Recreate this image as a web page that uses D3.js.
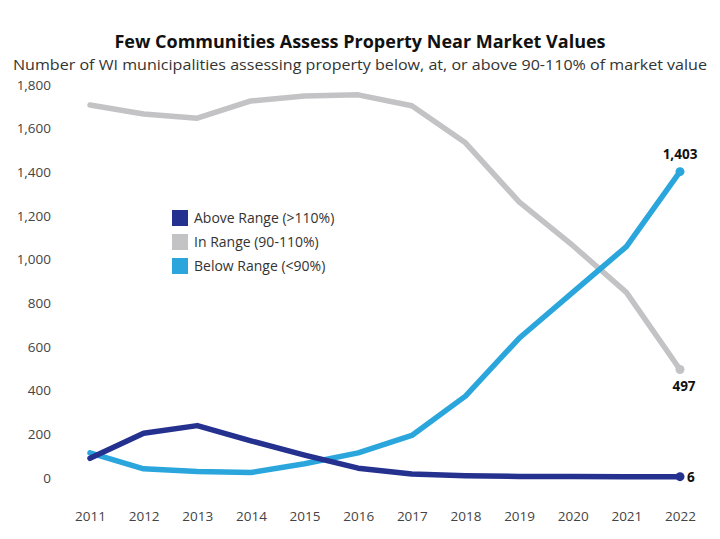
<!DOCTYPE html>
<html>
<head>
<meta charset="utf-8">
<script src="https://cdn.jsdelivr.net/npm/d3@7"></script>
<style>
  body { margin: 0; background: #fff; }
  text { font-family: "Open Sans", "Noto Sans", sans-serif; }
</style>
</head>
<body>
<div id="chart"></div>
<script>
// Datos
const years = [2011, 2012, 2013, 2014, 2015, 2016, 2017, 2018, 2019, 2020, 2021, 2022];
const aboveRange = [90, 205, 240, 170, 105, 45, 18, 10, 7, 7, 6, 6];
const inRange = [1708, 1667, 1648, 1727, 1750, 1755, 1705, 1535, 1265, 1065, 850, 497];
const belowRange = [115, 42, 30, 25, 65, 115, 195, 375, 640, 850, 1060, 1403];
const yTicks = [0, 200, 400, 600, 800, 1000, 1200, 1400, 1600, 1800];

const series = [
    { name: "Above Range (>110%)", values: aboveRange, color: "#25318e" },
    { name: "In Range (90-110%)", values: inRange, color: "#c3c3c5" },
    { name: "Below Range (<90%)", values: belowRange, color: "#2aa6dd" }
];

const width = 720;
const height = 539;
const margin = { top: 85, right: 40, bottom: 61, left: 90 };

const svg = d3.select("#chart")
    .append("svg")
    .attr("width", width)
    .attr("height", height);

const x = d3.scalePoint()
    .domain(years)
    .range([margin.left, width - margin.right]);

const y = d3.scaleLinear()
    .domain([0, 1800])
    .range([height - margin.bottom, margin.top]);

svg.append("text")
    .attr("x", width / 2)
    .attr("y", 48)
    .attr("text-anchor", "middle")
    .style("font-size", "18px")
    .style("font-weight", "bold")
    .attr("fill", "#111")
    .text("Few Communities Assess Property Near Market Values");

svg.append("text")
    .attr("x", width / 2)
    .attr("y", 70)
    .attr("text-anchor", "middle")
    .attr("textLength", 694)
    .attr("lengthAdjust", "spacingAndGlyphs")
    .style("font-size", "15px")
    .attr("fill", "#333")
    .text("Number of WI municipalities assessing property below, at, or above 90-110% of market value");

// Eje Y (solo etiquetas)
const yAxis = svg.append("g")
    .attr("transform", `translate(${margin.left - 36}, 0)`)
    .call(d3.axisLeft(y).tickValues(yTicks).tickSize(0).tickFormat(d3.format(",")));
yAxis.select(".domain").remove();
yAxis.selectAll("text")
    .style("font-size", "13.5px")
    .attr("fill", "#444");

// Eje X (solo etiquetas)
const xAxis = svg.append("g")
    .attr("transform", `translate(0, ${height - margin.bottom + 30})`)
    .call(d3.axisBottom(x).tickSize(0).tickFormat(d => d));
xAxis.select(".domain").remove();
xAxis.selectAll("text")
    .style("font-size", "13.5px")
    .attr("fill", "#444");

const line = d3.line()
    .x((d, i) => x(years[i]))
    .y(d => y(d));

// Orden de dibujo: gris, azul claro, azul oscuro
[series[1], series[2], series[0]].forEach(s => {
    svg.append("path")
        .datum(s.values)
        .attr("d", line)
        .attr("fill", "none")
        .attr("stroke", s.color)
        .attr("stroke-width", 5.5)
        .attr("stroke-linejoin", "round")
        .attr("stroke-linecap", "round");

    svg.append("circle")
        .attr("cx", x(years[years.length - 1]))
        .attr("cy", y(s.values[s.values.length - 1]))
        .attr("r", 4.5)
        .attr("fill", s.color);
});

const last = years[years.length - 1];
const fmt = d3.format(",");

svg.append("text")
    .attr("x", x(last))
    .attr("y", y(belowRange[belowRange.length - 1]) - 13)
    .attr("text-anchor", "middle")
    .style("font-size", "13.5px")
    .style("font-weight", "bold")
    .attr("fill", "#111")
    .text(fmt(belowRange[belowRange.length - 1]));

svg.append("text")
    .attr("x", x(last) + 4)
    .attr("y", y(inRange[inRange.length - 1]) + 22)
    .attr("text-anchor", "middle")
    .style("font-size", "13.5px")
    .style("font-weight", "bold")
    .attr("fill", "#111")
    .text(fmt(inRange[inRange.length - 1]));

svg.append("text")
    .attr("x", x(last) + 7)
    .attr("y", y(aboveRange[aboveRange.length - 1]) + 5)
    .style("font-size", "13.5px")
    .style("font-weight", "bold")
    .attr("fill", "#111")
    .text(fmt(aboveRange[aboveRange.length - 1]));

// Leyenda
const legend = svg.append("g")
    .attr("transform", "translate(172, 210)");

series.forEach((s, i) => {
    const row = legend.append("g")
        .attr("transform", `translate(0, ${i * 24})`);

    row.append("rect")
        .attr("width", 16)
        .attr("height", 16)
        .attr("fill", s.color);

    row.append("text")
        .attr("x", 22)
        .attr("y", 13)
        .style("font-size", "14px")
        .attr("fill", "#333")
        .text(s.name);
});
</script>
</body>
</html>
